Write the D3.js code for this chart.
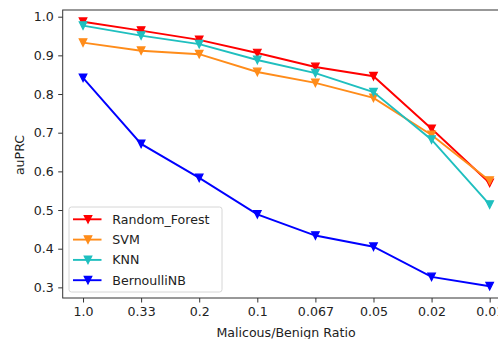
<!DOCTYPE html>
<html>
<head>
<meta charset="utf-8">
<script src="https://cdn.jsdelivr.net/npm/d3@7"></script>
<style>
  body { margin: 0; background: #fff; }
  text { font-family: "DejaVu Sans", sans-serif; }
</style>
</head>
<body>
<div id="chart"></div>
<script>
// categories on the x axis (shown as-is, evenly spaced)
var ratios = ["1.0", "0.33", "0.2", "0.1", "0.067", "0.05", "0.02", "0.01"];

var rfValues  = [0.987, 0.964, 0.940, 0.906, 0.870, 0.846, 0.710, 0.570];
var svmValues = [0.933, 0.912, 0.903, 0.857, 0.829, 0.790, 0.694, 0.576];
var knnValues = [0.977, 0.951, 0.929, 0.888, 0.854, 0.805, 0.682, 0.514];
var nbValues  = [0.842, 0.671, 0.583, 0.489, 0.434, 0.405, 0.327, 0.303];

var yTicks = [0.3, 0.4, 0.5, 0.6, 0.7, 0.8, 0.9, 1.0];

var series = [
  {name: "Random_Forest", color: "#ff0000", values: rfValues},
  {name: "SVM", color: "#ff8c1a", values: svmValues},
  {name: "KNN", color: "#1fbfbf", values: knnValues},
  {name: "BernoulliNB", color: "#0000ff", values: nbValues}
];

var width = 498, height = 339;
var fontSize = "12.6px";

var svg = d3.select("#chart").append("svg")
  .attr("width", width)
  .attr("height", height);

var plot = {left: 62.7, right: 510, top: 10, bottom: 298};

// plot box runs past the right edge of the window, like the original
var x = d3.scaleLinear()
  .domain([-0.35, ratios.length - 1 + 0.35])
  .range([plot.left, plot.right]);

var y = d3.scaleLinear()
  .domain([0.2725, 1.0173])
  .range([plot.bottom, plot.top]);

var axisColor = "#333";

var xAxis = d3.axisBottom(x)
  .tickValues(d3.range(ratios.length))
  .tickFormat(function(i) { return ratios[i]; })
  .tickSize(4.5)
  .tickPadding(4.5);

var yAxis = d3.axisLeft(y)
  .tickValues(yTicks)
  .tickFormat(d3.format(".1f"))
  .tickSize(4.5)
  .tickPadding(4.5);

svg.append("g")
  .attr("class", "x-axis")
  .attr("transform", "translate(0," + plot.bottom + ")")
  .call(xAxis);

svg.append("g")
  .attr("class", "y-axis")
  .attr("transform", "translate(" + plot.left + ",0)")
  .call(yAxis);

svg.selectAll(".domain").remove();
svg.selectAll(".tick line").attr("stroke", axisColor).attr("stroke-width", 1);
svg.selectAll(".tick text")
  .attr("fill", "#222")
  .style("font-size", fontSize)
  .style("font-family", "DejaVu Sans, sans-serif");

// spines
svg.append("rect")
  .attr("x", plot.left)
  .attr("y", plot.top)
  .attr("width", plot.right - plot.left)
  .attr("height", plot.bottom - plot.top)
  .attr("fill", "none")
  .attr("stroke", axisColor)
  .attr("stroke-width", 1);

var line = d3.line()
  .x(function(d, i) { return x(i); })
  .y(function(d) { return y(d); });

// matplotlib style "v" marker
var h = 3.8;
var triDown = "M0," + h + "L" + (-h) + "," + (-h) + "L" + h + "," + (-h) + "Z";

series.forEach(function(s) {
  var g = svg.append("g");
  g.append("path")
    .datum(s.values)
    .attr("d", line)
    .attr("fill", "none")
    .attr("stroke", s.color)
    .attr("stroke-width", 1.9);
  g.selectAll("path.marker")
    .data(s.values)
    .enter().append("path")
    .attr("class", "marker")
    .attr("d", triDown)
    .attr("transform", function(d, i) {
      return "translate(" + x(i) + "," + y(d) + ")";
    })
    .attr("fill", s.color)
    .attr("stroke", s.color)
    .attr("stroke-width", 1.2);
});

// axis labels
svg.append("text")
  .attr("x", 286)
  .attr("y", 337)
  .attr("text-anchor", "middle")
  .attr("fill", "#222")
  .style("font-size", fontSize)
  .text("Malicous/Benign Ratio");

svg.append("text")
  .attr("transform", "translate(24," + 155 + ") rotate(-90)")
  .attr("text-anchor", "middle")
  .attr("fill", "#222")
  .style("font-size", fontSize)
  .text("auPRC");

// legend
var legend = svg.append("g").attr("transform", "translate(69,207)");
legend.append("rect")
  .attr("width", 153)
  .attr("height", 85)
  .attr("rx", 2.5)
  .attr("fill", "#fff")
  .attr("fill-opacity", 0.8)
  .attr("stroke", "#d6d6d6")
  .attr("stroke-width", 1);

var items = legend.selectAll("g.item")
  .data(series)
  .enter().append("g")
  .attr("class", "item")
  .attr("transform", function(d, i) { return "translate(0," + (12.3 + i * 20.3) + ")"; });

items.append("line")
  .attr("x1", 4).attr("x2", 32.5)
  .attr("stroke", function(d) { return d.color; })
  .attr("stroke-width", 1.9);
items.append("path")
  .attr("d", triDown)
  .attr("transform", "translate(19,0)")
  .attr("fill", function(d) { return d.color; })
  .attr("stroke", function(d) { return d.color; })
  .attr("stroke-width", 1.2);
items.append("text")
  .attr("x", 43.3)
  .attr("dy", "0.35em")
  .attr("fill", "#222")
  .style("font-size", fontSize)
  .text(function(d) { return d.name; });
</script>
</body>
</html>
